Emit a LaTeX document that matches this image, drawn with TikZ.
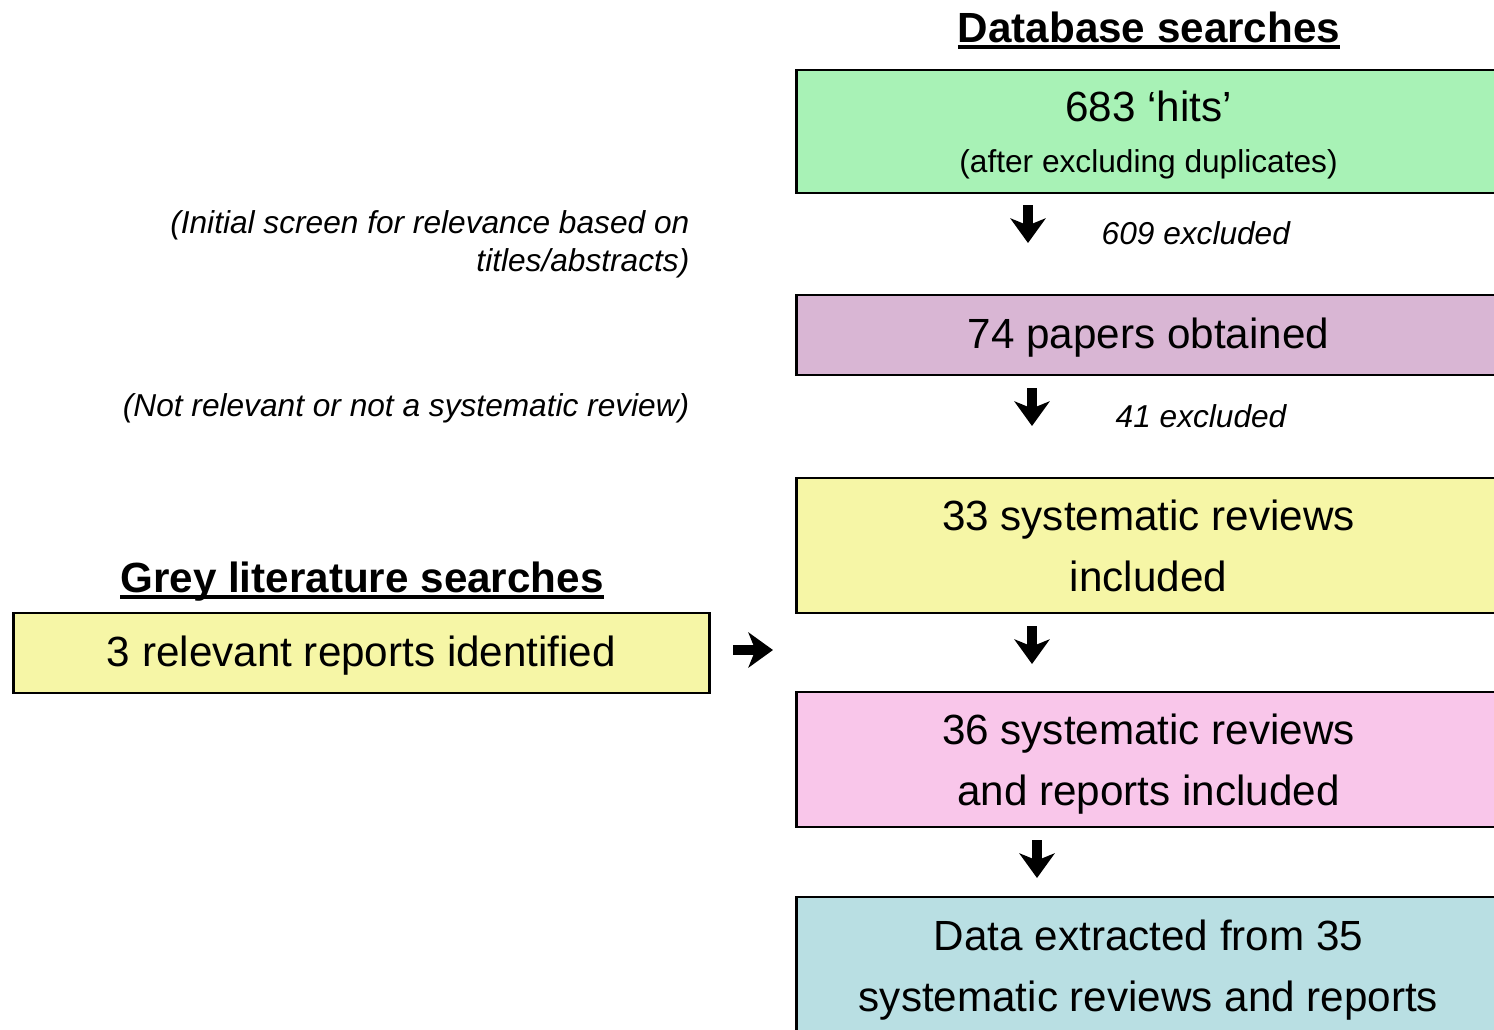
\documentclass[tikz,border=0pt]{standalone}
\usepackage{fontspec}
\setmainfont{Liberation Sans}
\usepackage{xcolor}
\usetikzlibrary{positioning, arrows.meta, calc}

\definecolor{hitsgreen}{RGB}{168,242,182}
\definecolor{papermauve}{RGB}{217,182,212}
\definecolor{reviewyellow}{RGB}{246,246,166}
\definecolor{reportpink}{RGB}{249,198,234}
\definecolor{datablue}{RGB}{185,223,227}

% heading with a heavy underline close to the baseline
\newcommand{\ulhead}[1]{\setbox0\hbox{#1}\rlap{\rule[-2pt]{\wd0}{1.15pt}}\box0}

\begin{document}
\begin{tikzpicture}[
x=0.01cm, y=-0.01cm,
    stagebox/.style={rectangle, draw, line width=0.8pt, minimum width=7.03cm, inner sep=2pt, align=center, font=\fontsize{12}{17.4}\selectfont},
    greybox/.style={rectangle, draw, line width=0.8pt, minimum width=6.95cm, minimum height=0.8cm, align=center, font=\fontsize{12}{14}\selectfont},
    heading/.style={font=\fontsize{12}{14}\selectfont\bfseries, anchor=base},
    note/.style={font=\fontsize{9}{10.8}\selectfont\itshape, inner sep=0pt},
    blockarrow/.style={line width=2.7pt, -{Stealth[length=7pt, width=10pt, inset=2pt]}}
]
    \clip (0,0) rectangle (1494,1029);

    % --- Database searches ---
    \node[heading] (dbtitle) at (1149, 42) {\ulhead{Database searches}};

    \node[stagebox, fill=hitsgreen, minimum height=1.23cm, text depth=0pt] (hits) at (1148.5, 131.5)
        {683 ‘hits’\\[-3pt]{\fontsize{9}{11}\selectfont (after excluding duplicates)}};

    \node[stagebox, fill=papermauve, minimum height=0.8cm, text depth=1pt] (papers) at (1148.5, 335) {74 papers obtained};

    \node[stagebox, fill=reviewyellow, minimum height=1.35cm] (reviews) at (1148.5, 545.5)
        {33 systematic reviews\\included};

    \node[stagebox, fill=reportpink, minimum height=1.35cm, text depth=0pt] (reports) at (1148.5, 759.5)
        {36 systematic reviews\\and reports included};

    \node[stagebox, fill=datablue, minimum height=1.38cm, text depth=0pt] (extract) at (1148.5, 966)
        {Data extracted from 35\\systematic reviews and reports};

    % --- Screening notes ---
    \node[note, anchor=east, align=right] (screen) at (690, 244)
        {(Initial screen for relevance based on\\titles/abstracts)};
    \node[note, anchor=west] (excl1) at (1101, 233) {609 excluded};

    \node[note, anchor=east] (notrel) at (690, 408) {(Not relevant or not a systematic review)};
    \node[note, anchor=west] (excl2) at (1115, 416) {41 excluded};

    % --- Grey literature ---
    \node[heading] (greytitle) at (362, 592) {\ulhead{Grey literature searches}};
    \node[greybox, fill=reviewyellow, text depth=1pt] (grey) at (361.5, 653) {3 relevant reports identified};

    % Arrows
    \coordinate (a1s) at (1028, 205);
    \coordinate (a1e) at (1028, 243);
    \coordinate (a2s) at (1032, 388);
    \coordinate (a2e) at (1032, 426);
    \coordinate (a3s) at (1032, 626);
    \coordinate (a3e) at (1032, 664);
    \coordinate (a4s) at (1037, 840);
    \coordinate (a4e) at (1037, 878);
    \coordinate (ars) at (733, 650);
    \coordinate (are) at (773, 650);

    \draw[blockarrow] (a1s) -- (a1e);
    \draw[blockarrow] (a2s) -- (a2e);
    \draw[blockarrow] (a3s) -- (a3e);
    \draw[blockarrow] (a4s) -- (a4e);
    \draw[blockarrow] (ars) -- (are);

\end{tikzpicture}
\end{document}
